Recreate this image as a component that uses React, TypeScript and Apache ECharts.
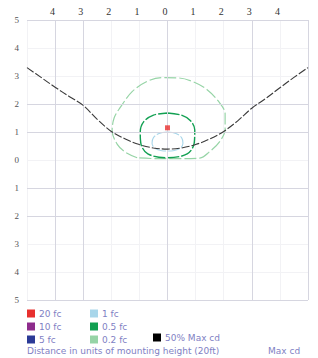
import React, { useEffect, useRef } from "react";
import * as echarts from "echarts";

const xTicks = [-4, -3, -2, -1, 0, 1, 2, 3, 4];
const strongX = [-4, -3, 0, 3, 5];
const strongY = [5, 2, 1, -1, -2, -5];

const maxCd50: number[][] = [
  [-5, 3.3], [-4.5, 2.95], [-4, 2.6], [-3.5, 2.27], [-3, 1.95], [-2.5, 1.45],
  [-2, 1.02], [-1.5, 0.75], [-1, 0.55], [-0.5, 0.43], [0, 0.39], [0.5, 0.43],
  [1, 0.55], [1.5, 0.75], [2, 1.02], [2.5, 1.4], [3, 1.85], [3.5, 2.2],
  [4, 2.58], [4.5, 2.95], [5, 3.3],
];

const fc02: number[][] = [
  [-1.08, 0.08], [-1.5, 0.28], [-1.78, 0.55], [-1.97, 1.05], [-1.9, 1.5],
  [-1.7, 1.85], [-1.25, 2.45], [-0.7, 2.82], [-0.2, 2.94], [0.4, 2.93],
  [0.9, 2.8], [1.4, 2.52], [1.85, 2.05], [2.05, 1.65], [2.05, 1.1],
  [1.85, 0.65], [1.5, 0.3], [1.15, 0.07], [0.4, 0.05], [-0.4, 0.05], [-1.08, 0.08],
];

const fc05: number[][] = [
  [0, 1.68], [0.5, 1.6], [0.82, 1.4], [0.97, 1.07], [0.95, 0.6], [0.7, 0.22],
  [0, 0.08], [-0.7, 0.22], [-0.95, 0.6], [-0.97, 1.0], [-0.85, 1.36],
  [-0.5, 1.6], [0, 1.68],
];

const fc1: number[][] = [
  [0, 1.0], [0.3, 0.95], [0.5, 0.8], [0.55, 0.6], [0.45, 0.42], [0.2, 0.33],
  [0, 0.32], [-0.2, 0.33], [-0.45, 0.42], [-0.55, 0.6], [-0.5, 0.8],
  [-0.3, 0.95], [0, 1.0],
];

const fc20Line: number[][] = [[0, 1.62], [0, 0.42]];
const fc20Point: number[][] = [[0, 1.15]];
const fc10: number[][] = [];
const fc5: number[][] = [];

const COLORS = {
  fc20: "#e8302e",
  fc10: "#8e2c8c",
  fc5: "#2b3a96",
  fc1: "#a8d6ea",
  fc05: "#12a052",
  fc02: "#96d4a6",
  cd50: "#000000",
};

const legendText = { color: "#7f7fc4", fontSize: 9, fontFamily: "DejaVu Sans", padding: [0, 0, 0, -1] };

export default function App() {
  const ref = useRef<HTMLDivElement>(null);
  useEffect(() => {
    if (!ref.current) return;
    const chart = echarts.init(ref.current, null, { renderer: "svg" });
    const lineSeries = (name: string, data: number[][], color: string, width = 1.2, dash: any = [10, 2]) => ({
      name,
      type: "line",
      data,
      smooth: 0.35,
      showSymbol: false,
      symbol: "none",
      itemStyle: { color },
      lineStyle: { color, width, type: dash },
      z: 3,
    });
    const legendBase = {
      orient: "vertical", itemWidth: 8, itemHeight: 8, itemGap: 4, padding: 0,
      icon: "rect", selectedMode: false, textStyle: legendText,
    };
    chart.setOption({
      animation: false,
      grid: { left: 27, right: 10, top: 20, bottom: 58 },
      xAxis: {
        type: "value",
        min: -5,
        max: 5,
        interval: 1,
        position: "top",
        axisLine: { show: false },
        axisTick: { show: false },
        splitLine: { show: true, lineStyle: { color: "#f2f2f5", width: 1 } },
        axisLabel: {
          margin: 4,
          fontSize: 10,
          fontFamily: "Liberation Serif",
          color: "#333",
          padding: [0, 5, 0, 0],
          formatter: (v: number) => (xTicks.includes(v) ? String(Math.abs(v)) : ""),
        },
      },
      yAxis: {
        type: "value",
        min: -5,
        max: 5,
        interval: 1,
        axisLine: { show: false },
        axisTick: { show: false },
        splitLine: { show: true, lineStyle: { color: "#f2f2f5", width: 1 } },
        axisLabel: {
          margin: 8,
          fontSize: 9,
          fontFamily: "Liberation Serif",
          color: "#555",
          formatter: (v: number) => String(Math.abs(v)),
        },
      },
      legend: [
        { ...legendBase, left: 27, top: 309, data: ["20 fc", "10 fc", "5 fc"] },
        { ...legendBase, left: 90, top: 309, data: ["1 fc", "0.5 fc", "0.2 fc"] },
        { ...legendBase, left: 153, top: 333, data: ["50% Max cd"] },
      ],
      graphic: [
        {
          type: "text", left: 27, top: 346,
          style: { text: "Distance in units of mounting height (20ft)", fill: "#7f7fc4", fontSize: 9, fontFamily: "DejaVu Sans" },
        },
        {
          type: "text", left: 268, top: 346,
          style: { text: "Max cd", fill: "#7f7fc4", fontSize: 9, fontFamily: "DejaVu Sans" },
        },
      ],
      series: [
        {
          name: "grid-strong",
          type: "line",
          data: [],
          silent: true,
          markLine: {
            silent: true,
            symbol: "none",
            label: { show: false },
            lineStyle: { color: "#d6d6e0", width: 1, type: "solid" },
            data: [
              ...strongX.map((x) => ({ xAxis: x })),
              ...strongY.map((y) => ({ yAxis: y })),
            ],
          },
        },
        lineSeries("0.2 fc", fc02, COLORS.fc02, 1.2, [12, 3]),
        lineSeries("0.5 fc", fc05, COLORS.fc05, 1.4, [12, 2]),
        lineSeries("1 fc", fc1, COLORS.fc1, 1.1, [12, 2]),
        lineSeries("10 fc", fc10, COLORS.fc10),
        lineSeries("5 fc", fc5, COLORS.fc5),
        {
          name: "20 fc",
          type: "line",
          data: fc20Line,
          symbol: "none",
          itemStyle: { color: COLORS.fc20 },
          lineStyle: { color: COLORS.fc20, width: 1, type: [4, 3] },
          z: 4,
        },
        {
          name: "20 fc",
          type: "scatter",
          data: fc20Point,
          symbol: "rect",
          symbolSize: 5,
          itemStyle: { color: COLORS.fc20 },
          z: 5,
        },
        {
          ...lineSeries("50% Max cd", maxCd50, "#3a3a3a", 1.1, [8, 2]),
          itemStyle: { color: COLORS.cd50 },
          z: 6,
        },
      ],
    });
    return () => chart.dispose();
  }, []);
  return <div ref={ref} style={{ position: "fixed", left: 0, top: 0, width: 318, height: 358, background: "#fff" }} />;
}
